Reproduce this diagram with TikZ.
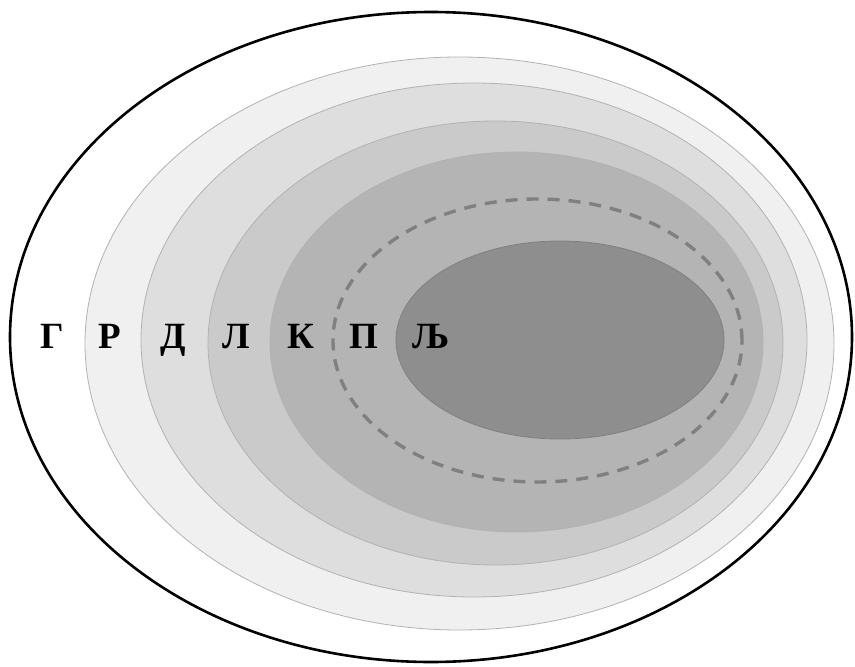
\documentclass[tikz,border=0pt]{standalone}
\usepackage{fontspec}
\setmainfont{Liberation Serif}
\definecolor{ringA}{HTML}{F0F0F0}
\definecolor{ringB}{HTML}{DEDEDE}
\definecolor{ringC}{HTML}{CACACA}
\definecolor{ringD}{HTML}{B4B4B4}
\definecolor{ringE}{HTML}{8E8E8E}
\begin{document}
\begin{tikzpicture}[x=1pt, y=-1pt, ring/.style={draw=gray!60, line width=0.8pt}, letter/.style={anchor=base, font=\fontsize{37}{40}\selectfont\bfseries}]
                    \useasboundingbox (0,0) rectangle (855,667);
                    \draw[line width=2.6pt] (431,337) ellipse [x radius=421pt, y radius=325pt];
                    \filldraw[ring, fill=ringA] (459.5,343.5) ellipse [x radius=374.5pt, y radius=286.5pt];
                    \filldraw[ring, fill=ringB] (474,340) ellipse [x radius=333pt, y radius=257pt];
                    \filldraw[ring, fill=ringC] (495.5,343) ellipse [x radius=287.5pt, y radius=222pt];
                    \filldraw[ring, fill=ringD] (516.5,342) ellipse [x radius=246.5pt, y radius=190pt];
                    \draw[gray, line width=3.4pt, dash pattern=on 12pt off 9pt] (537.5,340.5) ellipse [x radius=204.5pt, y radius=141.5pt];
                    \filldraw[draw=gray, line width=0.8pt, fill=ringE] (560,340) ellipse [x radius=164pt, y radius=99pt];
                    \node[letter] (G) at (52,348) {Г};
                    \node[letter] (R) at (110,348) {Р};
                    \node[letter] (D) at (173,348) {Д};
                    \node[letter] (L) at (236,348) {Л};
                    \node[letter] (K) at (301,348) {К};
                    \node[letter] (P) at (364,348) {П};
                    \node[letter] (LJ) at (431,348) {Љ};
                \end{tikzpicture}
\end{document}
